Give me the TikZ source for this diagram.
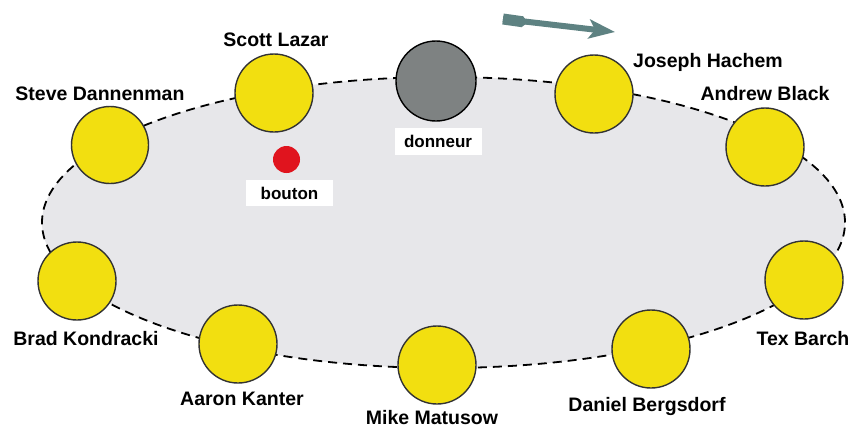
\documentclass[tikz,border=0pt]{standalone}
\usepackage{fontspec}
\setmainfont{Liberation Sans}
\usetikzlibrary{arrows.meta,shapes.geometric}
\definecolor{tablefill}{HTML}{E7E7EA}
\definecolor{seatyellow}{HTML}{F2DF10}
\definecolor{dealergray}{HTML}{7E8282}
\definecolor{btnred}{HTML}{E0141E}
\definecolor{arrowcol}{HTML}{5E8282}
\tikzset{
  seatdisc/.style={circle, fill=seatyellow, draw=black!80, line width=1.4pt, minimum size=78pt, inner sep=0pt},
  dealerdisc/.style={circle, fill=dealergray, draw=black, line width=1.4pt, minimum size=80pt, inner sep=0pt},
  playername/.style={font=\bfseries\fontsize{19.5}{21}\selectfont, inner sep=0pt, anchor=base},
  whitetag/.style={fill=white, font=\bfseries\fontsize{17}{19}\selectfont, inner sep=0pt, minimum width=87pt},
}
\begin{document}
\begin{tikzpicture}[x=1pt,y=-1pt]
\useasboundingbox (0,0) rectangle (853,429);
\fill[white] (0,0) rectangle (853,429);
% table
\node[ellipse, draw=black, line width=1.8pt, dash pattern=on 9pt off 6pt, fill=tablefill, minimum width=803pt, minimum height=291pt, inner sep=0pt] (table) at (443.5,222.5) {};
% seats
\node[seatdisc] (scott) at (274,93) {};
\node[dealerdisc] (dealer) at (436,81) {};
\node[seatdisc] (joseph) at (594,94) {};
\node[seatdisc] (andrew) at (765,147) {};
\node[seatdisc, minimum size=77pt] (steve) at (110,145) {};
\node[seatdisc] (brad) at (77,281) {};
\node[seatdisc] (aaron) at (238,344) {};
\node[seatdisc] (mike) at (437,365) {};
\node[seatdisc] (daniel) at (651,349) {};
\node[seatdisc] (tex) at (804,280) {};
% names
\node[playername] (scottL) at (276,46) {Scott Lazar};
\node[playername] (steveL) at (100,100) {Steve Dannenman};
\node[playername] (josephL) at (708,67) {Joseph Hachem};
\node[playername] (andrewL) at (765,100) {Andrew Black};
\node[playername] (bradL) at (86,345) {Brad Kondracki};
\node[playername] (aaronL) at (242,405) {Aaron Kanter};
\node[playername] (mikeL) at (432,424) {Mike Matusow};
\node[playername] (danielL) at (647,411) {Daniel Bergsdorf};
\node[playername] (texL) at (803,345) {Tex Barch};
% dealer tag and button
\node[whitetag, minimum height=27pt] (dealerT) at (438,141.5) {donneur};
\node[circle, fill=btnred, inner sep=0pt, minimum size=27pt] (button) at (286.5,159.5) {};
\node[whitetag, minimum height=26pt] (buttonT) at (289.5,193) {bouton};
% direction arrow
\coordinate (arrA) at (503,19);
\coordinate (arrF) at (528,22.5);
\coordinate (arrB) at (615,32);
\draw[arrowcol, line width=11pt, -{Triangle[length=6pt,width=11pt]}] (arrA) -- (arrF);
\draw[arrowcol, line width=6pt, -{Stealth[length=26pt,width=19pt,inset=6pt]}] (arrA) -- (arrB);
\end{tikzpicture}
\end{document}
